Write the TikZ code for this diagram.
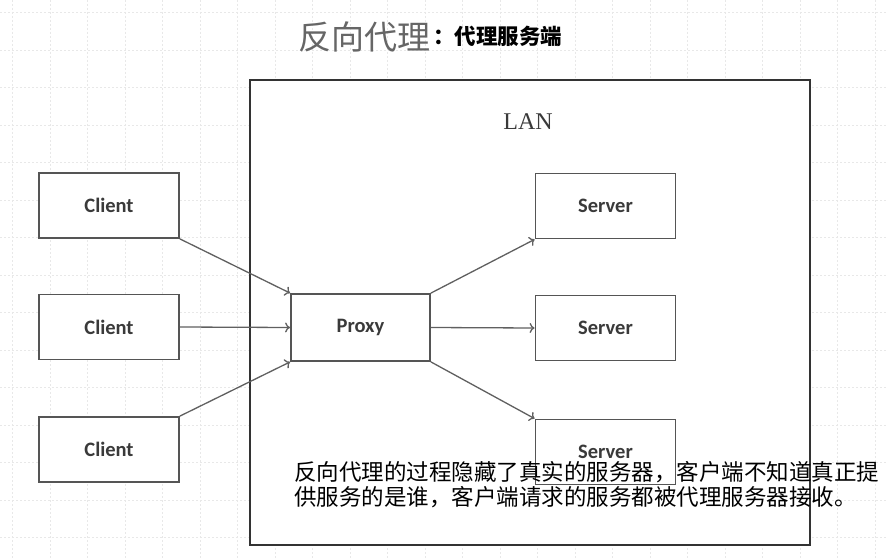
\documentclass[tikz,border=0pt]{standalone}
\usepackage{fontspec}
\setmainfont{Carlito}
\newfontfamily\cjk{Noto Sans CJK SC}
\newfontfamily\lanfont{Liberation Serif}
\usetikzlibrary{arrows.meta}
\definecolor{boxc}{HTML}{555555}
\definecolor{linec}{HTML}{606060}
\definecolor{textc}{HTML}{3A3A3A}
\definecolor{gridc}{HTML}{E8E8E8}
\begin{document}
\begin{tikzpicture}[x=1pt,y=-1pt,
  box/.style={draw=boxc, line width=1.8pt, minimum width=140pt, minimum height=65pt, inner sep=0pt, fill=white,
    font=\fontsize{20.5}{24}\selectfont\bfseries, text=textc},
  conn/.style={draw=linec, line width=1.3pt, -{To[length=5pt,width=10pt]}},
  overlay/.style={anchor=west, inner sep=0pt, font=\cjk\fontsize{22.5}{24}\selectfont, text=black}]
\useasboundingbox (0,0) rectangle (886,559);
\fill[white] (0,0) rectangle (886,559);
\foreach \i in {0,...,23} \draw[gridc, line width=0.6pt, dash pattern=on 2pt off 2pt] ({12.5+37.5*\i},0) -- ({12.5+37.5*\i},559);
\foreach \j in {0,...,14} \draw[gridc, line width=0.6pt, dash pattern=on 2pt off 2pt] (0,{12.5+37.5*\j}) -- (886,{12.5+37.5*\j});
% title
\node[inner sep=0pt, text=gray!80!black, font=\cjk\fontsize{33}{33}\selectfont] (t1) at (364,37) {反向代理};
\node[anchor=west, inner sep=0pt, text=black, font=\cjk\bfseries\fontsize{21.5}{21.5}\selectfont] (t2) at (433,36) {：代理服务端};
% LAN
\node[draw=black!80, line width=2.2pt, fill=white, minimum width=560pt, minimum height=465pt, inner sep=0pt] (lan) at (530,312.5) {};
\node[inner sep=0pt, text=textc, font=\lanfont\fontsize{24}{24}\selectfont] (lanlbl) at (528,122) {LAN};
% clients
\node[box] (c1) at (109,205.5) {Client};
\node[box] (c2) at (109,327) {Client};
\node[box] (c3) at (109,449.5) {Client};
% proxy
\node[box, minimum width=139pt, minimum height=67pt] (p) at (360.5,327.5) {Proxy};
% servers
\node[box] (s1) at (605.5,206) {Server};
\node[box] (s2) at (605.5,328) {Server};
\node[box] (s3) at (605.5,452) {Server};
% connectors
\draw[conn] (c1.south east) -- (p.north west);
\draw[conn] (c2.east) -- (p.west);
\draw[conn] (c3.north east) -- (p.south west);
\draw[conn] (p.north east) -- (s1.south west);
\draw[conn] (p.east) -- (s2.west);
\draw[conn] (p.south east) -- (s3.north west);
% overlay text
\node[overlay] (o1) at (294,472) {反向代理的过程隐藏了真实的服务器，客户端不知道真正提};
\node[overlay] (o2) at (294,497) {供服务的是谁，客户端请求的服务都被代理服务器接收。};
\end{tikzpicture}
\end{document}
